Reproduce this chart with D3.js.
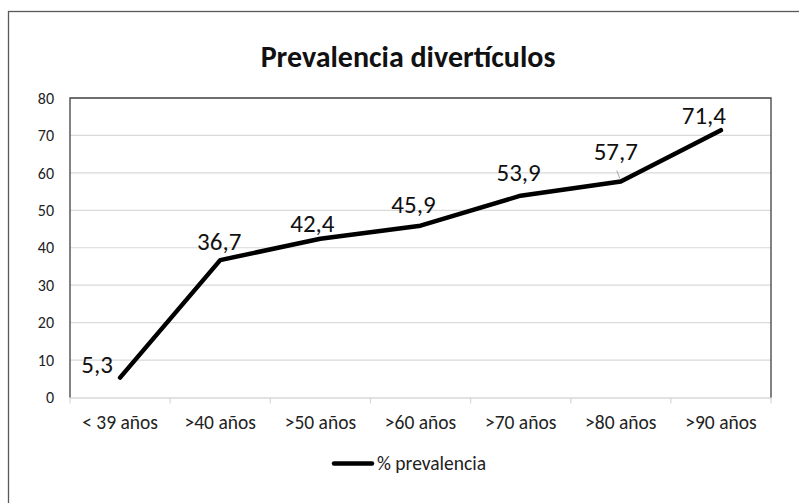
<!DOCTYPE html>
<html><head><meta charset="utf-8">
<script src="https://cdn.jsdelivr.net/npm/d3@7"></script>
<style>
body{margin:0;background:#fff;}
svg{display:block;font-family:Carlito, Calibri, Lato, sans-serif;}
</style></head>
<body><svg id="c" width="799" height="503"></svg>
<script>
const categories = ["< 39 años", ">40 años", ">50 años", ">60 años", ">70 años", ">80 años", ">90 años"];
const values = [5.3, 36.7, 42.4, 45.9, 53.9, 57.7, 71.4];
const valueLabels = ["5,3", "36,7", "42,4", "45,9", "53,9", "57,7", "71,4"];
const yTicks = [0, 10, 20, 30, 40, 50, 60, 70, 80];
const seriesName = "% prevalencia";
const title = "Prevalencia divertículos";
// label offsets (dx, dy) relative to point
const labelOffsets = [[-23, -5], [-1, -10], [-8, -7], [-7, -13], [-2, -15], [-5, -21], [-17, -6]];

const FONT = "Carlito, Calibri, Lato, sans-serif";
const svg = d3.select("#c");
const m = {l: 70, r: 771, t: 98, b: 397.5};

svg.append("rect").attr("x", 8.5).attr("y", 11.5).attr("width", 900).attr("height", 900)
  .attr("fill", "none").attr("stroke", "#595959").attr("stroke-width", 1.3);

svg.append("text").attr("x", 408).attr("y", 67).attr("text-anchor", "middle")
  .attr("font-size", 30).attr("font-weight", "bold").attr("fill", "#111").text(title);

const x = d3.scaleBand().domain(categories).range([m.l, m.r]);
const y = d3.scaleLinear().domain([0, 80]).range([m.b, m.t]);

// gridlines
svg.append("g").selectAll("line").data(yTicks.filter(d => d > 0 && d < 80)).join("line")
  .attr("x1", m.l).attr("x2", m.r).attr("y1", d => y(d)).attr("y2", d => y(d))
  .attr("stroke", "#d9d9d9").attr("stroke-width", 1.2);

// y axis labels
const ya = svg.append("g").attr("transform", `translate(${m.l},0)`)
  .call(d3.axisLeft(y).tickValues(yTicks).tickSize(0).tickPadding(16));
ya.select(".domain").remove();
ya.selectAll("text").attr("font-size", 16).attr("fill", "#222").attr("font-family", FONT);

// x axis
const xa = svg.append("g").attr("transform", `translate(0,${m.b})`)
  .call(d3.axisBottom(x).tickSize(0).tickPadding(18));
xa.select(".domain").attr("stroke", "#d9d9d9").attr("stroke-width", 1.5);
xa.selectAll("text").attr("font-size", 19.5).attr("fill", "#222").attr("font-family", FONT);
// tick marks at band boundaries
const bounds = categories.map(c => x(c)).concat([x(categories[categories.length - 1]) + x.bandwidth()]);
svg.append("g").selectAll("line").data(bounds).join("line")
  .attr("x1", d => d).attr("x2", d => d).attr("y1", m.b).attr("y2", m.b + 6)
  .attr("stroke", "#d9d9d9").attr("stroke-width", 1.3);

// plot border top, left, right
svg.append("path").attr("d", `M${m.l},${m.b}V${m.t}H${m.r}V${m.b}`)
  .attr("fill", "none").attr("stroke", "#404040").attr("stroke-width", 1.3);

const cx = (c) => x(c) + x.bandwidth() / 2;
const line = d3.line().x((d, i) => cx(categories[i])).y(d => y(d));
svg.append("path").datum(values).attr("d", line).attr("fill", "none")
  .attr("stroke", "#000").attr("stroke-width", 4.5).attr("stroke-linejoin", "round").attr("stroke-linecap", "round");

// leader line for 57,7
svg.append("line").attr("x1", cx(categories[5]) - 4).attr("y1", y(values[5]) - 11)
  .attr("x2", cx(categories[5]) - 1).attr("y2", y(values[5]) - 3)
  .attr("stroke", "#a6a6a6").attr("stroke-width", 1);

svg.append("g").selectAll("text").data(values).join("text")
  .attr("x", (d, i) => cx(categories[i]) + labelOffsets[i][0])
  .attr("y", (d, i) => y(d) + labelOffsets[i][1])
  .attr("text-anchor", "middle").attr("font-size", 25).attr("fill", "#111")
  .text((d, i) => valueLabels[i]);

// legend
svg.append("line").attr("x1", 334).attr("x2", 372).attr("y1", 463.5).attr("y2", 463.5)
  .attr("stroke", "#000").attr("stroke-width", 4.5).attr("stroke-linecap", "round");
svg.append("text").attr("x", 377).attr("y", 470).attr("font-size", 19.5).attr("fill", "#222").text(seriesName);
</script></body></html>
